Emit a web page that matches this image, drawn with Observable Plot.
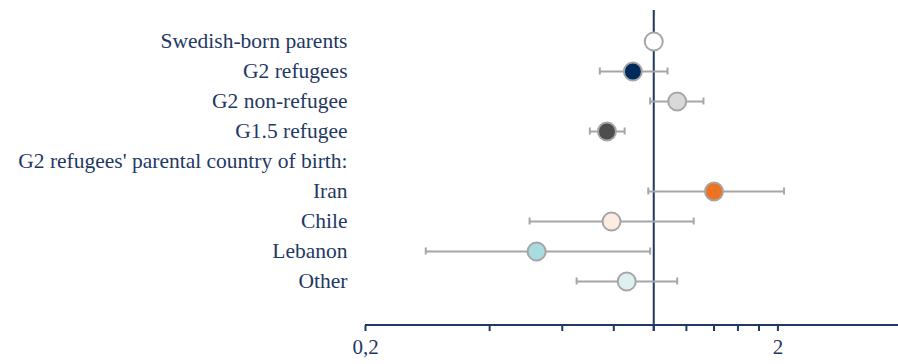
<!DOCTYPE html>
<html>
<head>
<meta charset="utf-8">
<script src="https://cdn.jsdelivr.net/npm/d3@7"></script>
<script src="https://cdn.jsdelivr.net/npm/@observablehq/plot@0.6"></script>
<style>
  html, body { margin: 0; padding: 0; background: #fff; }
  svg { display: block; }
  svg text { font-family: "Liberation Serif", "Times New Roman", Times, "DejaVu Serif", serif !important; }
</style>
</head>
<body>
<div id="chart"></div>
<script>
const labels = [
  "Swedish-born parents",
  "G2 refugees",
  "G2 non-refugee",
  "G1.5 refugee",
  "G2 refugees' parental country of birth:",
  "Iran",
  "Chile",
  "Lebanon",
  "Other"
];
const estimate = [1.00, 0.89, 1.14, 0.77, null, 1.40, 0.79, 0.52, 0.86];
const lower    = [null, 0.74, 0.98, 0.70, null, 0.97, 0.50, 0.28, 0.65];
const upper    = [null, 1.08, 1.32, 0.85, null, 2.07, 1.25, 0.98, 1.14];
const xTicks = [0.2, 0.4, 0.6, 0.8, 1, 1.2, 1.4, 1.6, 1.8, 2];
const xTickLabels = {0.2: "0,2", 2: "2"};

const rows = labels.map((label, i) => ({
  label, est: estimate[i], lo: lower[i], hi: upper[i]
}));
const ci = rows.filter(d => d.lo != null);
const pts = rows.filter(d => d.est != null);

const navy = "#1f3864";
const grey = "#a6a6a6";
const serif = "'Liberation Serif', 'Times New Roman', Times, serif";

const chart = Plot.plot({
  width: 898,
  height: 364,
  marginLeft: 365,
  marginRight: 1,
  marginTop: 10,
  marginBottom: 39,
  style: {fontFamily: serif, color: navy, background: "#fff"},
  x: {type: "log", domain: [0.2, 3.9]},
  y: {type: "band", domain: labels, range: [24.875, 297.125], padding: 0, axis: null},
  color: {
    type: "ordinal",
    domain: labels,
    range: ["#ffffff", "#002b5c", "#d9d9d9", "#4d4d4d", "#ffffff", "#ed7222", "#fcece2", "#a8dce0", "#dff0f0"]
  },
  marks: [
    Plot.text(labels, {y: d => d, frameAnchor: "left", dx: -18, textAnchor: "end",
                       fontSize: 21.5, fontFamily: serif, fill: navy}),
    Plot.axisX({ticks: xTicks, tickSize: 6, tickPadding: 8, fontSize: 21, fontFamily: serif, label: null,
                tickFormat: d => xTickLabels[d] ?? "", stroke: navy, strokeWidth: 2, color: navy}),
    Plot.ruleX([1], {stroke: navy, strokeWidth: 2, insetBottom: -6}),
    Plot.ruleY(ci, {y: "label", x1: "lo", x2: "hi", stroke: grey, strokeWidth: 2}),
    Plot.tickX(ci, {x: "lo", y: "label", stroke: grey, strokeWidth: 2, insetTop: 11.5, insetBottom: 11.5}),
    Plot.tickX(ci, {x: "hi", y: "label", stroke: grey, strokeWidth: 2, insetTop: 11.5, insetBottom: 11.5}),
    Plot.dot(pts, {x: "est", y: "label", r: 9, fill: "label", stroke: grey, strokeWidth: 2})
  ]
});

// bottom axis line
const svg = d3.select(chart);
svg.append("line")
  .attr("x1", 365).attr("x2", 898)
  .attr("y1", 325).attr("y2", 325)
  .attr("stroke", navy).attr("stroke-width", 2);

document.getElementById("chart").appendChild(chart);
</script>
</body>
</html>
